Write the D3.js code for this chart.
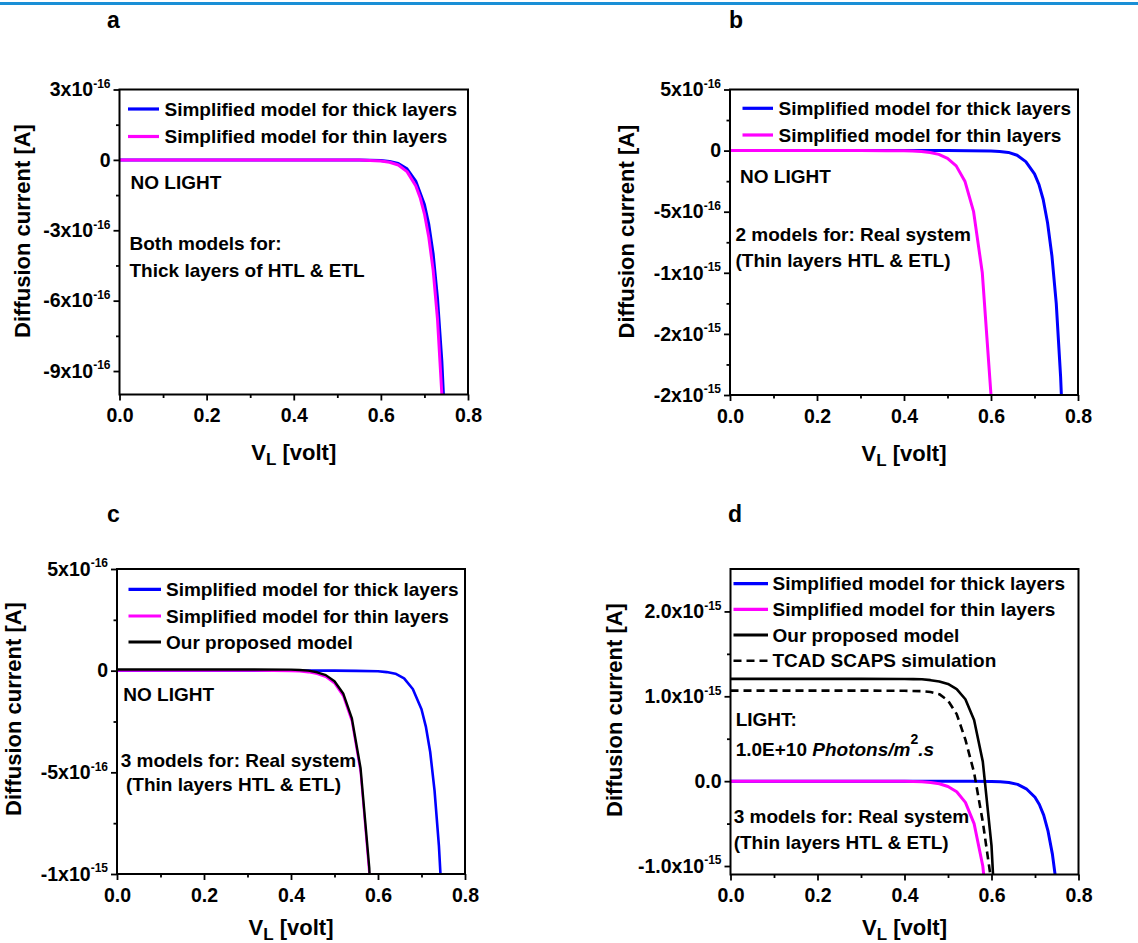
<!DOCTYPE html>
<html>
<head>
<meta charset="utf-8">
<script src="https://cdnjs.cloudflare.com/ajax/libs/d3/7.8.5/d3.min.js"></script>
<style>
  body { margin: 0; background: #fff; }
  svg { display: block; font-family: "Liberation Sans", Arial, sans-serif; font-weight: bold; }
  .axis text { font-size: 19.5px; font-weight: bold; fill: #000; font-family: "Liberation Sans", Arial, sans-serif; }
  .axis line { stroke: #000; stroke-width: 1.8; }
  .axis path { display: none; }
</style>
</head>
<body>
<svg id="fig" width="1138" height="943"></svg>
<script>
// currents are in units of 1e-16 A
const voltsThick = [0, 0.1, 0.2, 0.3, 0.4, 0.5, 0.55, 0.6, 0.62, 0.64, 0.66, 0.68, 0.70, 0.71, 0.72, 0.73, 0.74, 0.75, 0.76, 0.77];
const thickModel = [0, 0, 0, 0, 0, 0, -0.01, -0.03, -0.07, -0.15, -0.38, -0.9, -1.9, -2.75, -4.0, -5.9, -8.6, -12.5, -18.5, -27];

const voltsThinA = [0, 0.1, 0.2, 0.3, 0.4, 0.5, 0.55, 0.6, 0.62, 0.64, 0.66, 0.68, 0.69, 0.70, 0.71, 0.72, 0.73, 0.74, 0.75];
const thinModelThickCase = [0, 0, 0, 0, 0, 0, -0.01, -0.05, -0.1, -0.22, -0.5, -1.1, -1.6, -2.3, -3.3, -4.7, -6.8, -10, -15];

const voltsThin = [0, 0.1, 0.2, 0.3, 0.36, 0.4, 0.42, 0.44, 0.46, 0.48, 0.50, 0.52, 0.54, 0.56, 0.58, 0.60, 0.62];
const thinModel = [0, 0, 0, 0, -0.01, -0.02, -0.04, -0.08, -0.16, -0.31, -0.63, -1.25, -2.5, -5.0, -10.0, -20.0, -40.0];

const voltsProposed = [0, 0.1, 0.2, 0.3, 0.4, 0.42, 0.44, 0.46, 0.48, 0.50, 0.52, 0.54, 0.56, 0.58, 0.60, 0.62];
const proposedDark = [0.06, 0.06, 0.06, 0.06, 0.05, 0.03, 0.0, -0.08, -0.22, -0.52, -1.12, -2.35, -4.8, -9.7, -19.6, -39];
const proposedLight = [12.05, 12.05, 12.05, 12.05, 12.03, 12.02, 12.0, 11.9, 11.75, 11.45, 10.85, 9.65, 7.2, 2.3, -7.6, -27];

const voltsScaps = [0, 0.1, 0.2, 0.3, 0.4, 0.44, 0.46, 0.48, 0.50, 0.52, 0.54, 0.56, 0.58, 0.60];
const scapsLight = [10.67, 10.67, 10.67, 10.67, 10.65, 10.6, 10.5, 10.25, 9.5, 7.9, 4.9, 1.0, -4.8, -12];

const xTicks = [0, 0.2, 0.4, 0.6, 0.8];
const xMinor = [0.1, 0.3, 0.5, 0.7];

const yTicksA = [3, 0, -3, -6, -9];
const yLabelsA = ["3x10^-16", "0", "-3x10^-16", "-6x10^-16", "-9x10^-16"];
const yMinorA = [1.5, -1.5, -4.5, -7.5];

const yTicksB = [5, 0, -5, -10, -15, -20];
const yLabelsB = ["5x10^-16", "0", "-5x10^-16", "-1x10^-15", "-2x10^-15", "-2x10^-15"];
const yMinorB = [2.5, -2.5, -7.5, -12.5, -17.5];

const yTicksC = [5, 0, -5, -10];
const yLabelsC = ["5x10^-16", "0", "-5x10^-16", "-1x10^-15"];
const yMinorC = [2.5, -2.5, -7.5];

const yTicksD = [20, 10, 0, -10];
const yLabelsD = ["2.0x10^-15", "1.0x10^-15", "0.0", "-1.0x10^-15"];
const yMinorD = [15, 5, -5];

const NAME_THICK = "Simplified model for thick layers";
const NAME_THIN = "Simplified model for thin layers";
const NAME_OURS = "Our proposed model";
const NAME_SCAPS = "TCAD SCAPS simulation";

const BLUE = "#0000ff";
const MAGENTA = "#ff00ff";

const svg = d3.select("#fig");

// blue rule at the very top
svg.append("rect").attr("x", 0).attr("y", 2).attr("width", 1138).attr("height", 3).attr("fill", "#1a8fd6");

const panels = [
  {
    id: "a", letter: [107, 28], box: [119.5, 89.5, 468, 394.5], yDomain: [-10, 3],
    yTicks: yTicksA, yLabels: yLabelsA, yMinor: yMinorA, yTitle: [29.5, 231],
    series: [
      { v: voltsThick, i: thickModel, name: NAME_THICK, color: BLUE, w: 3 },
      { v: voltsThinA, i: thinModelThickCase, name: NAME_THIN, color: MAGENTA, w: 3 },
    ],
    legend: { x0: 128, x1: 159, tx: 164.5, rows: [109, 136.5] },
    notes: [
      { x: 130.5, y: 189, parts: [{ t: "NO LIGHT" }] },
      { x: 129.5, y: 250, parts: [{ t: "Both models for:" }] },
      { x: 129.5, y: 276.5, parts: [{ t: "Thick layers of HTL & ETL" }] },
    ],
  },
  {
    id: "b", letter: [729, 28], box: [730, 89.5, 1078, 395], yDomain: [-20, 5],
    yTicks: yTicksB, yLabels: yLabelsB, yMinor: yMinorB, yTitle: [634, 231.5],
    series: [
      { v: voltsThick, i: thickModel, name: NAME_THICK, color: BLUE, w: 3 },
      { v: voltsThin, i: thinModel, name: NAME_THIN, color: MAGENTA, w: 3 },
    ],
    legend: { x0: 742.5, x1: 773, tx: 778.5, rows: [108.3, 135] },
    notes: [
      { x: 740, y: 182.5, parts: [{ t: "NO LIGHT" }] },
      { x: 735.5, y: 240.5, parts: [{ t: "2 models for: Real system" }] },
      { x: 735.5, y: 266.5, parts: [{ t: "(Thin layers HTL & ETL)" }] },
    ],
  },
  {
    id: "c", letter: [107, 521.7], box: [117, 569, 465, 874], yDomain: [-10, 5],
    yTicks: yTicksC, yLabels: yLabelsC, yMinor: yMinorC, yTitle: [21, 709],
    series: [
      { v: voltsThick, i: thickModel, name: NAME_THICK, color: BLUE, w: 2.6 },
      { v: voltsThin, i: thinModel, name: NAME_THIN, color: MAGENTA, w: 2.2 },
      { v: voltsProposed, i: proposedDark, name: NAME_OURS, color: "#000", w: 2.4 },
    ],
    legend: { x0: 128.5, x1: 161, tx: 166, rows: [589.3, 616, 642] },
    notes: [
      { x: 123.3, y: 701, parts: [{ t: "NO LIGHT" }] },
      { x: 120.7, y: 766.7, parts: [{ t: "3 models for: Real system" }] },
      { x: 126, y: 791, parts: [{ t: "(Thin layers HTL & ETL)" }] },
    ],
  },
  {
    id: "d", letter: [728, 521.7], box: [730.5, 569, 1078.5, 874.5], yDomain: [-11, 25],
    yTicks: yTicksD, yLabels: yLabelsD, yMinor: yMinorD, yTitle: [622, 710],
    series: [
      { v: voltsThick, i: thickModel, name: NAME_THICK, color: BLUE, w: 3 },
      { v: voltsThin, i: thinModel, name: NAME_THIN, color: MAGENTA, w: 3 },
      { v: voltsProposed, i: proposedLight, name: NAME_OURS, color: "#000", w: 2.6 },
      { v: voltsScaps, i: scapsLight, name: NAME_SCAPS, color: "#000", w: 2.6, dash: "8,5" },
    ],
    legend: { x0: 733.5, x1: 768, tx: 772.5, rows: [583.7, 609.3, 635, 660.7] },
    notes: [
      { x: 735.7, y: 726, parts: [{ t: "LIGHT:" }] },
      { x: 735.7, y: 755.7, parts: [{ t: "1.0E+10 " }, { t: "Photons/m", it: true }, { t: "2", sup: true }, { t: ".s", it: true }] },
      { x: 733.7, y: 823.3, parts: [{ t: "3 models for: Real system" }] },
      { x: 733.7, y: 849.3, parts: [{ t: "(Thin layers HTL & ETL)" }] },
    ],
  },
];

function drawPanel(p) {
  const [x0, y0, x1, y1] = p.box;
  const x = d3.scaleLinear().domain([0, 0.8]).range([x0, x1]);
  const y = d3.scaleLinear().domain(p.yDomain).range([y1, y0]);
  const g = svg.append("g").attr("class", "panel-" + p.id);

  g.append("clipPath").attr("id", "clip-" + p.id)
    .append("rect").attr("x", x0).attr("y", y0).attr("width", x1 - x0).attr("height", y1 - y0);

  g.append("text").attr("x", p.letter[0]).attr("y", p.letter[1])
    .attr("font-size", 23).text(p.id);

  // axes: minor then major ticks
  g.append("g").attr("class", "axis").attr("transform", `translate(${x0},0)`)
    .call(d3.axisLeft(y).tickValues(p.yMinor).tickSize(3.5).tickFormat(""));
  const ya = g.append("g").attr("class", "axis").attr("transform", `translate(${x0},0)`)
    .call(d3.axisLeft(y).tickValues(p.yTicks).tickSize(6).tickPadding(3).tickFormat((d, i) => p.yLabels[i]));
  ya.selectAll("text").each(function (d, i) {
    const parts = p.yLabels[i].split("^");
    const t = d3.select(this).text(null);
    t.append("tspan").text(parts[0]);
    if (parts[1]) t.append("tspan").attr("dy", -8.5).attr("font-size", 12).text(parts[1]);
  });

  g.append("g").attr("class", "axis").attr("transform", `translate(0,${y1})`)
    .call(d3.axisBottom(x).tickValues(xMinor).tickSize(3.5).tickFormat(""));
  g.append("g").attr("class", "axis").attr("transform", `translate(0,${y1})`)
    .call(d3.axisBottom(x).tickValues(xTicks).tickSize(6).tickPadding(8).tickFormat(d3.format(".1f")));

  // axis titles (kept inside the page at the bottom row)
  const xt = g.append("text").attr("x", (x0 + x1) / 2).attr("y", Math.min(y1 + 65.5, 935))
    .attr("text-anchor", "middle").attr("font-size", 22);
  xt.append("tspan").text("V");
  xt.append("tspan").attr("dy", 5).attr("font-size", 17).text("L");
  xt.append("tspan").attr("dy", -5).text(" [volt]");

  g.append("text").attr("transform", `translate(${p.yTitle[0]},${p.yTitle[1]}) rotate(-90)`)
    .attr("text-anchor", "middle").attr("font-size", 22).text("Diffusion current [A]");

  // curves
  const line = d3.line().x((d) => x(d[0])).y((d) => y(d[1]));
  const curves = g.append("g").attr("clip-path", `url(#clip-${p.id})`);
  p.series.forEach((s) => {
    curves.append("path").datum(d3.zip(s.v, s.i))
      .attr("d", line).attr("fill", "none")
      .attr("stroke", s.color).attr("stroke-width", s.w)
      .attr("stroke-dasharray", s.dash || null)
      .attr("stroke-linejoin", "round");
  });

  // frame
  g.append("rect").attr("x", x0).attr("y", y0).attr("width", x1 - x0).attr("height", y1 - y0)
    .attr("fill", "none").attr("stroke", "#000").attr("stroke-width", 2);

  // legend
  p.series.forEach((s, k) => {
    const ly = p.legend.rows[k];
    g.append("line").attr("x1", p.legend.x0).attr("x2", p.legend.x1).attr("y1", ly).attr("y2", ly)
      .attr("stroke", s.color).attr("stroke-width", s.dash ? 2.6 : 3.2).attr("stroke-dasharray", s.dash || null);
    g.append("text").attr("x", p.legend.tx).attr("y", ly + 6.5).attr("font-size", 19).text(s.name);
  });

  // annotations
  p.notes.forEach((n) => {
    const t = g.append("text").attr("x", n.x).attr("y", n.y).attr("font-size", 19);
    let raised = false;
    n.parts.forEach((part) => {
      const ts = t.append("tspan").text(part.t);
      if (part.it) ts.attr("font-style", "italic");
      if (part.sup) {
        ts.attr("font-size", 14).attr("dy", -12);
        raised = true;
      } else if (raised) {
        ts.attr("dy", 12);
        raised = false;
      }
    });
  });
}

panels.forEach(drawPanel);
</script>
</body>
</html>
